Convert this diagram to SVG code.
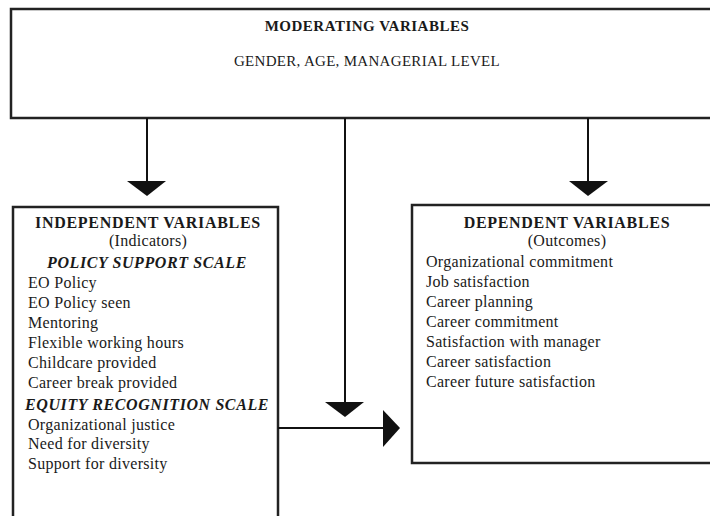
<svg xmlns="http://www.w3.org/2000/svg" width="710" height="516" viewBox="0 0 710 516">
<style>
.box{fill:#fff;stroke:#222;stroke-width:2.5}
.ln{stroke:#111;stroke-width:2;fill:none}
.ah{fill:#111}
text{font-family:"Liberation Serif","Times New Roman",serif;fill:#1a1a1a}
.h{font-weight:bold;font-size:16px;letter-spacing:0.7px}
.hs{font-weight:bold;font-size:15px;letter-spacing:0.5px}
.t{font-size:16px;letter-spacing:0.3px}
.ti{font-size:15px;letter-spacing:0.3px}
.bi{font-weight:bold;font-style:italic;font-size:16px;letter-spacing:0.6px}
</style>
<rect width="710" height="516" fill="#fff"/>
<g id="moderating">
<rect class="box" x="11" y="9" width="720" height="109"/>
<text class="hs" x="367" y="31" text-anchor="middle">MODERATING VARIABLES</text>
<text class="ti" x="367" y="66" text-anchor="middle">GENDER, AGE, MANAGERIAL LEVEL</text>
</g>
<g id="independent">
<rect class="box" x="13" y="207" width="265" height="330"/>
<text class="h" x="148" y="228" text-anchor="middle">INDEPENDENT VARIABLES</text>
<text class="t" x="148" y="246" text-anchor="middle">(Indicators)</text>
<text class="bi" x="147" y="268" text-anchor="middle">POLICY SUPPORT SCALE</text>
<text class="t" x="28" y="288">EO Policy</text>
<text class="t" x="28" y="308">EO Policy seen</text>
<text class="t" x="28" y="328">Mentoring</text>
<text class="t" x="28" y="348">Flexible working hours</text>
<text class="t" x="28" y="368">Childcare provided</text>
<text class="t" x="28" y="388">Career break provided</text>
<text class="bi" x="25" y="410">EQUITY RECOGNITION SCALE</text>
<text class="t" x="28" y="430">Organizational justice</text>
<text class="t" x="28" y="449">Need for diversity</text>
<text class="t" x="28" y="469">Support for diversity</text>
</g>
<g id="dependent">
<rect class="box" x="412" y="205" width="320" height="258"/>
<text class="h" x="567" y="228" text-anchor="middle">DEPENDENT VARIABLES</text>
<text class="t" x="567" y="246" text-anchor="middle">(Outcomes)</text>
<text class="t" x="426" y="267">Organizational commitment</text>
<text class="t" x="426" y="287">Job satisfaction</text>
<text class="t" x="426" y="307">Career planning</text>
<text class="t" x="426" y="327">Career commitment</text>
<text class="t" x="426" y="347">Satisfaction with manager</text>
<text class="t" x="426" y="367">Career satisfaction</text>
<text class="t" x="426" y="387">Career future satisfaction</text>
</g>
<g id="connectors">
<line class="ln" x1="147" y1="118" x2="147" y2="182"/>
<polygon class="ah" points="127,181 166,181 147,196"/>
<line class="ln" x1="588" y1="118" x2="588" y2="182"/>
<polygon class="ah" points="569,181 608,181 588,196"/>
<line class="ln" x1="345" y1="118" x2="345" y2="403"/>
<polygon class="ah" points="325,402 364,402 345,417"/>
<line class="ln" x1="278" y1="428" x2="385" y2="428"/>
<polygon class="ah" points="383,410 383,447 400,428"/>
</g>
</svg>
